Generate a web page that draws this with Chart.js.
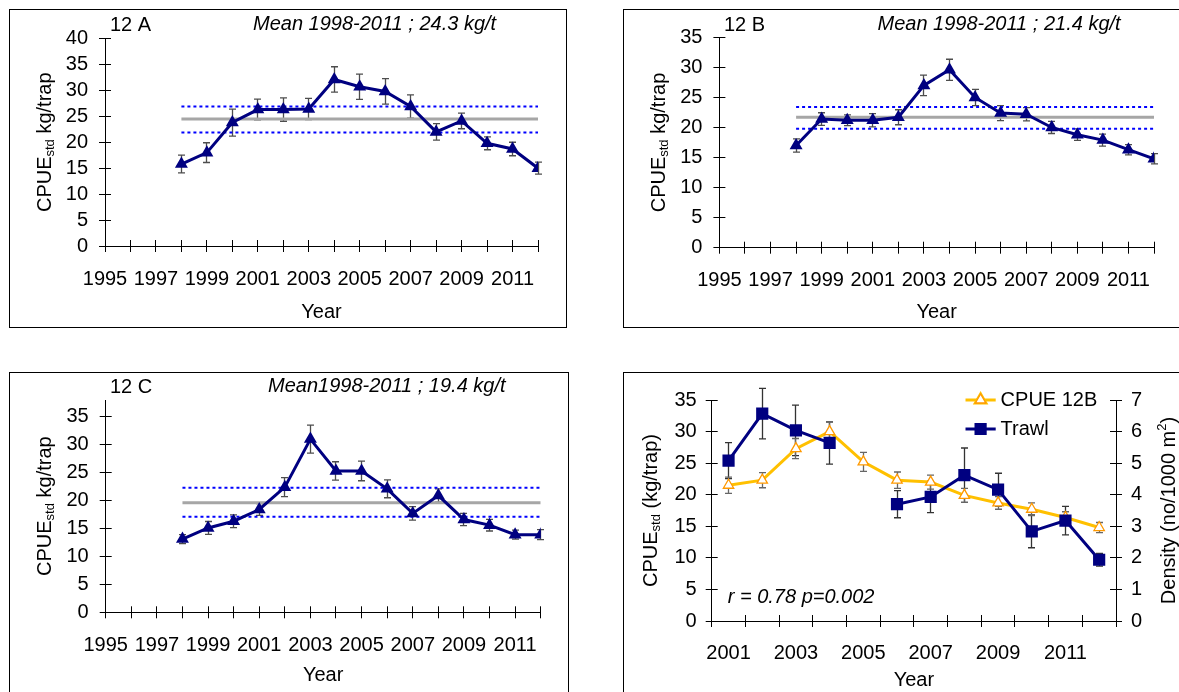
<!DOCTYPE html>
<html>
<head>
<meta charset="utf-8">
<script src="https://cdn.jsdelivr.net/npm/chart.js@4.4.1/dist/chart.umd.min.js"></script>
<style>
  html, body { margin: 0; padding: 0; background: #fff; }
  body { position: relative; width: 1179px; height: 692px; overflow: hidden; }
  .panel { position: absolute; border: 1px solid #000; background: #fff; }
  .panel canvas { display: block; }
</style>
</head>
<body>
<div class="panel" style="left:9px;top:9px;"><canvas id="cA" width="556" height="317"></canvas></div>
<div class="panel" style="left:623px;top:9px;"><canvas id="cB" width="560" height="317"></canvas></div>
<div class="panel" style="left:9px;top:372px;"><canvas id="cC" width="558" height="330"></canvas></div>
<div class="panel" style="left:623px;top:372px;"><canvas id="cD" width="560" height="330"></canvas></div>
<script>
/* ── Data ── */
var years = [1998, 1999, 2000, 2001, 2002, 2003, 2004, 2005, 2006, 2007, 2008, 2009, 2010, 2011, 2012];
var refSpan = [1998, 2012];

var cpueA = [15.8, 18.0, 23.8, 26.3, 26.3, 26.4, 32.1, 30.7, 29.8, 26.9, 22.0, 24.1, 19.8, 18.7, 15.0];
var errA  = [1.7, 1.9, 2.6, 2.0, 2.25, 2.05, 2.45, 2.45, 2.45, 2.25, 1.6, 1.5, 1.25, 1.3, 1.15];
var refA  = [24.5, 26.9, 21.9];   // mean, upper, lower

var cpueB = [17.0, 21.4, 21.2, 21.2, 21.7, 27.0, 29.6, 25.0, 22.4, 22.2, 20.0, 18.8, 17.9, 16.3, 14.8];
var errB  = [1.1, 1.05, 0.9, 1.1, 1.25, 1.7, 1.75, 1.35, 1.25, 1.1, 1.0, 0.95, 1.0, 0.85, 0.85];
var refB  = [21.7, 23.4, 19.8];

var cpueC = [13.1, 15.1, 16.3, 18.4, 22.4, 31.0, 25.3, 25.3, 22.1, 17.7, 20.9, 16.6, 15.6, 13.9, 13.9];
var errC  = [0.8, 1.15, 1.15, 1.05, 1.7, 2.5, 1.65, 1.75, 1.6, 1.2, 1.2, 1.1, 1.05, 0.8, 0.9];
var refC  = [19.6, 22.3, 17.1];

var yearsD    = ['2001', '2002', '2003', '2004', '2005', '2006', '2007', '2008', '2009', '2010', '2011', '2012'];
var cpueD     = [21.5, 22.3, 27.3, 30.0, 25.2, 22.3, 22.0, 19.9, 18.7, 17.7, 16.4, 14.8];
var errCpueD  = [1.3, 1.2, 1.6, 1.5, 1.5, 1.3, 1.1, 1.1, 1.0, 1.0, 0.9, 0.8];
var trawlD    = [5.08, 6.57, 6.04, 5.64, null, 3.70, 3.93, 4.62, 4.16, 2.84, 3.18, 1.94];
var errTrawlD = [0.57, 0.8, 0.8, 0.67, null, 0.43, 0.5, 0.86, 0.52, 0.52, 0.45, 0.2];

var yTicksLeft  = 5;
var yTicksRight = 1;

/* ── Defaults ── */
var FONT = '"Liberation Sans", Arial, Helvetica, sans-serif';
Chart.defaults.font.family = FONT;
Chart.defaults.font.size = 20;
Chart.defaults.color = '#000';
Chart.defaults.animation = false;
Chart.defaults.plugins.legend.display = false;
Chart.defaults.plugins.tooltip.enabled = false;

function alignPx(p) { return Math.round(p - 0.5) + 0.5; }

/* ── Error bars, drawn under the lines ── */
var errorBars = {
  id: 'errorBars',
  beforeDatasetsDraw: function(chart) {
    var ctx = chart.ctx;
    chart.data.datasets.forEach(function(ds, i) {
      if (!ds.errors) return;
      var meta = chart.getDatasetMeta(i);
      var ys = chart.scales[meta.yAxisID];
      ctx.save();
      ctx.strokeStyle = ds.errorColor || '#555';
      ctx.lineWidth = 1.3;
      meta.data.forEach(function(pt, j) {
        var v = ds.data[j];
        var val = (v !== null && typeof v === 'object') ? v.y : v;
        var e = ds.errors[j];
        if (val === null || val === undefined || e === null || e === undefined) return;
        var x = alignPx(pt.x);
        var y1 = ys.getPixelForValue(val + e);
        var y2 = ys.getPixelForValue(val - e);
        ctx.beginPath();
        ctx.moveTo(x, y1); ctx.lineTo(x, y2);
        ctx.moveTo(x - 3.5, y1); ctx.lineTo(x + 3.5, y1);
        ctx.moveTo(x - 3.5, y2); ctx.lineTo(x + 3.5, y2);
        ctx.stroke();
      });
      ctx.restore();
    });
  }
};

/* ── Tick marks crossing the axes (inner half) ── */
var innerTicks = {
  id: 'innerTicks',
  afterDraw: function(chart) {
    var ctx = chart.ctx, a = chart.chartArea;
    ctx.save();
    ctx.strokeStyle = '#000';
    ctx.lineWidth = 1;
    Object.keys(chart.scales).forEach(function(id) {
      var s = chart.scales[id];
      var pos = [];
      if (s.type === 'category') {
        for (var i = 0; i <= s.ticks.length; i++) pos.push(s.getPixelForValue(i - 0.5));
      } else {
        s.ticks.forEach(function(t) { pos.push(s.getPixelForValue(t.value)); });
      }
      pos.forEach(function(p) {
        p = alignPx(p);
        ctx.beginPath();
        if (s.position === 'bottom') { ctx.moveTo(p, a.bottom); ctx.lineTo(p, a.bottom - 6); }
        else if (s.position === 'left') { ctx.moveTo(a.left, p); ctx.lineTo(a.left + 6, p); }
        else { ctx.moveTo(a.right, p); ctx.lineTo(a.right - 6, p); }
        ctx.stroke();
      });
    });
    ctx.restore();
  }
};

/* ── Text helpers ── */
function richText(ctx, parts, cx, cy, rot) {
  ctx.save();
  ctx.translate(cx, cy);
  ctx.rotate(rot);
  ctx.fillStyle = '#000';
  ctx.textAlign = 'left';
  ctx.textBaseline = 'alphabetic';
  var total = 0;
  parts.forEach(function(p) { ctx.font = p.font; p.w = ctx.measureText(p.t).width; total += p.w; });
  var x = -total / 2;
  parts.forEach(function(p) { ctx.font = p.font; ctx.fillText(p.t, x, 7 + (p.dy || 0)); x += p.w; });
  ctx.restore();
}

function plainText(ctx, t, x, y, font, align) {
  ctx.save();
  ctx.font = font;
  ctx.fillStyle = '#000';
  ctx.textAlign = align || 'left';
  ctx.textBaseline = 'middle';
  ctx.fillText(t, x, y);
  ctx.restore();
}

var BIG = '20px ' + FONT;
var ITAL = 'italic 20px ' + FONT;
var SMALL = '13px ' + FONT;

function scaleGrid() {
  return { drawOnChartArea: false, tickLength: 6, color: '#000', lineWidth: 1 };
}

/* ── CPUE panel (12 A / 12 B / 12 C) ── */
function cpuePanel(id, vals, errs, ref, yMax, box, txt) {
  var canvas = document.getElementById(id);
  var W = canvas.width, H = canvas.height;
  var pts = years.map(function(y, i) { return { x: y, y: vals[i] }; });
  function refLine(v) { return refSpan.map(function(y) { return { x: y, y: v }; }); }

  var textPlugin = {
    id: 'panelText',
    afterDraw: function(chart) {
      var ctx = chart.ctx, a = chart.chartArea;
      plainText(ctx, txt.label, 100, txt.ty + 1, BIG);
      plainText(ctx, txt.mean, txt.meanX, txt.ty, ITAL);
      plainText(ctx, 'Year', (a.left + a.right) / 2, txt.yearY, BIG, 'center');
      richText(ctx, [
        { t: 'CPUE', font: BIG },
        { t: 'std', font: SMALL, dy: 3 },
        { t: ' kg/trap', font: BIG }
      ], 33.5, (a.top + a.bottom) / 2, -Math.PI / 2);
    }
  };

  return new Chart(canvas, {
    type: 'line',
    data: {
      datasets: [
        { data: pts, errors: errs, errorColor: '#4d4d4d', borderColor: '#000080', backgroundColor: '#000080',
          borderWidth: 3, pointStyle: 'triangle', pointRadius: 4.5, tension: 0, order: 0 },
        { data: refLine(ref[0]), borderColor: '#a6a6a6', borderWidth: 3, pointRadius: 0, order: 1 },
        { data: refLine(ref[1]), borderColor: '#0000ff', borderWidth: 2, borderDash: [3, 3], pointRadius: 0, order: 2 },
        { data: refLine(ref[2]), borderColor: '#0000ff', borderWidth: 2, borderDash: [3, 3], pointRadius: 0, order: 3 }
      ]
    },
    options: {
      responsive: false,
      events: [],
      layout: { padding: { top: box.top, right: W - box.right, left: 0, bottom: 0 } },
      scales: {
        x: {
          type: 'linear', min: 1995, max: 2012,
          afterFit: function(s) { s.height = H - box.bottom; },
          ticks: {
            stepSize: 1, autoSkip: false, maxRotation: 0, padding: 15,
            callback: function(v) { return (v % 2 === 1 && v < 2012) ? String(v) : ''; }
          },
          grid: scaleGrid(),
          border: { color: '#000', width: 1 }
        },
        y: {
          min: 0, max: yMax,
          afterFit: function(s) { s.width = box.left; },
          ticks: { stepSize: yTicksLeft, includeBounds: false, autoSkip: false, padding: 11 },
          grid: scaleGrid(),
          border: { color: '#000', width: 1 }
        }
      }
    },
    plugins: [errorBars, innerTicks, textPlugin]
  });
}

cpuePanel('cA', cpueA, errA, refA, 40,
  { left: 95, right: 528, top: 28.5, bottom: 236 },
  { label: '12 A', mean: 'Mean 1998-2011 ; 24.3 kg/t', meanX: 243, ty: 14, yearY: 302 });

cpuePanel('cB', cpueB, errB, refB, 35,
  { left: 95.4, right: 530, top: 27.3, bottom: 237.7 },
  { label: '12 B', mean: 'Mean 1998-2011 ; 21.4 kg/t', meanX: 253.5, ty: 14, yearY: 302 });

cpuePanel('cC', cpueC, errC, refC, 38,
  { left: 95.7, right: 530.7, top: 27, bottom: 239.3 },
  { label: '12 C', mean: 'Mean1998-2011 ; 19.4 kg/t', meanX: 258, ty: 13, yearY: 302 });

/* ── Panel D: CPUE 12B vs trawl density ── */
(function() {
  var canvas = document.getElementById('cD');
  var W = canvas.width, H = canvas.height;
  var box = { left: 87.7, right: 492, top: 27, bottom: 248 };

  var textPlugin = {
    id: 'panelTextD',
    afterDraw: function(chart) {
      var ctx = chart.ctx, a = chart.chartArea;
      plainText(ctx, 'Year', (a.left + a.right) / 2, 307, BIG, 'center');
      plainText(ctx, 'r = 0.78 p=0.002', 103.7, 224, ITAL);
      richText(ctx, [
        { t: 'CPUE', font: BIG },
        { t: 'std', font: SMALL, dy: 3 },
        { t: ' (kg/trap)', font: BIG }
      ], 26, (a.top + a.bottom) / 2, -Math.PI / 2);
      richText(ctx, [
        { t: 'Density (no/1000 m', font: BIG },
        { t: '2', font: SMALL, dy: -9 },
        { t: ')', font: BIG }
      ], 544, (a.top + a.bottom) / 2, -Math.PI / 2);

      /* legend */
      var items = [chart.data.datasets[1], chart.data.datasets[0]];
      items.forEach(function(ds, k) {
        var y = 27 + k * 29;
        ctx.save();
        ctx.strokeStyle = ds.borderColor;
        ctx.lineWidth = 3;
        ctx.beginPath(); ctx.moveTo(341.5, y); ctx.lineTo(371.7, y); ctx.stroke();
        Chart.helpers.drawPoint(ctx, {
          pointStyle: ds.pointStyle, radius: ds.pointRadius, rotation: 0,
          borderWidth: ds.pointBorderWidth || 1
        }, 356.6, y);
        ctx.fillStyle = ds.pointBackgroundColor || ds.backgroundColor;
        ctx.strokeStyle = ds.pointBorderColor || ds.borderColor;
        ctx.lineWidth = ds.pointBorderWidth || 1;
        ctx.fill(); ctx.stroke();
        ctx.restore();
        plainText(ctx, ds.label, 376.6, y, BIG);
      });
    }
  };

  new Chart(canvas, {
    type: 'line',
    data: {
      labels: yearsD,
      datasets: [
        { label: 'Trawl', data: trawlD, yAxisID: 'y2', errors: errTrawlD, errorColor: '#333',
          borderColor: '#000080', backgroundColor: '#000080', borderWidth: 3,
          pointStyle: 'rect', pointRadius: 6.5, spanGaps: false, tension: 0, order: 0 },
        { label: 'CPUE 12B', data: cpueD, yAxisID: 'y', errors: errCpueD, errorColor: '#666',
          borderColor: '#ffc000', backgroundColor: '#ffffff', pointBackgroundColor: '#ffffff',
          pointBorderColor: '#ff9900', pointBorderWidth: 1.3, borderWidth: 3,
          pointStyle: 'triangle', pointRadius: 6, tension: 0, order: 1 }
      ]
    },
    options: {
      responsive: false,
      events: [],
      layout: { padding: { top: box.top, right: 0, left: 0, bottom: 0 } },
      scales: {
        x: {
          type: 'category', offset: true,
          afterFit: function(s) { s.height = H - box.bottom; },
          ticks: {
            autoSkip: false, maxRotation: 0, padding: 14,
            callback: function(v, i) { return i % 2 === 0 ? this.getLabelForValue(v) : ''; }
          },
          grid: { offset: true, drawOnChartArea: false, tickLength: 6, color: '#000' },
          border: { color: '#000', width: 1 }
        },
        y: {
          position: 'left', min: 0, max: 35,
          afterFit: function(s) { s.width = box.left; },
          ticks: { stepSize: yTicksLeft, autoSkip: false, padding: 9 },
          grid: scaleGrid(),
          border: { color: '#000', width: 1 }
        },
        y2: {
          position: 'right', min: 0, max: 7,
          afterFit: function(s) { s.width = W - box.right; },
          ticks: { stepSize: yTicksRight, autoSkip: false, padding: 9 },
          grid: scaleGrid(),
          border: { color: '#000', width: 1 }
        }
      }
    },
    plugins: [errorBars, innerTicks, textPlugin]
  });
})();
</script>
</body>
</html>
